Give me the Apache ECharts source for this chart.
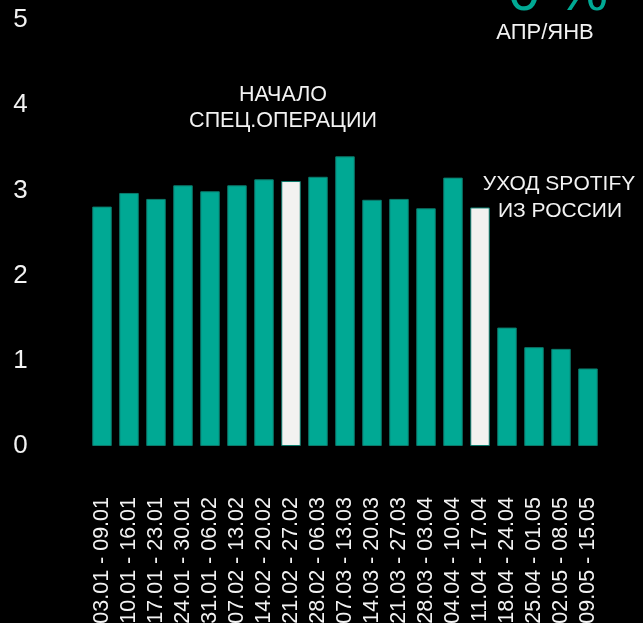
<!DOCTYPE html>
<html>
<head>
<meta charset="utf-8">
<script src="https://cdn.jsdelivr.net/npm/echarts@6/dist/echarts.min.js"></script>
<style>
html,body{margin:0;padding:0;background:#000;}
#c{width:643px;height:623px;}
</style>
</head>
<body>
<div id="c"></div>
<script>
var categories = ['03.01 - 09.01','10.01 - 16.01','17.01 - 23.01','24.01 - 30.01','31.01 - 06.02','07.02 - 13.02','14.02 - 20.02','21.02 - 27.02','28.02 - 06.03','07.03 - 13.03','14.03 - 20.03','21.03 - 27.03','28.03 - 03.04','04.04 - 10.04','11.04 - 17.04','18.04 - 24.04','25.04 - 01.05','02.05 - 08.05','09.05 - 15.05'];
var values = [2.81, 2.97, 2.90, 3.06, 2.99, 3.06, 3.13, 3.11, 3.16, 3.40, 2.89, 2.90, 2.79, 3.15, 2.80, 1.39, 1.16, 1.14, 0.91];
var highlighted = ['21.02 - 27.02', '11.04 - 17.04'];
var yTicks = [0, 1, 2, 3, 4, 5];

var FONT = '"Liberation Sans", Arial, sans-serif';
var chart = echarts.init(document.getElementById('c'), null, {renderer: 'canvas'});
chart.setOption({
  backgroundColor: '#000',
  animation: false,
  grid: {left: 88.5, right: 41.5, top: 20, bottom: 177, containLabel: false, outerBoundsMode: 'none'},
  xAxis: {
    type: 'category',
    data: categories,
    axisLine: {show: false},
    axisTick: {show: false},
    axisLabel: {rotate: 90, margin: 51, color: '#f2f2f2', fontSize: 21.5, fontFamily: FONT, interval: 0}
  },
  yAxis: {
    type: 'value',
    min: yTicks[0],
    max: yTicks[yTicks.length - 1],
    interval: 1,
    splitLine: {show: false},
    axisLine: {show: false},
    axisTick: {show: false},
    axisLabel: {color: '#f2f2f2', fontSize: 26, fontFamily: FONT, align: 'center', margin: 68}
  },
  series: [{
    type: 'bar',
    data: values,
    barWidth: 19.5,
    itemStyle: {
      color: function (p) { return highlighted.indexOf(categories[p.dataIndex]) >= 0 ? '#f2f2f0' : '#00a994'; },
      borderColor: '#0b7a6b',
      borderWidth: 1
    }
  }],
  graphic: [
    {type: 'text', x: 558, y: -6, style: {text: '0 %', fill: '#00a994', font: '58px ' + FONT, textAlign: 'center', textVerticalAlign: 'middle'}},
    {type: 'text', x: 545, y: 32.5, style: {text: 'АПР/ЯНВ', fill: '#f2f2f2', font: '22px ' + FONT, textAlign: 'center', textVerticalAlign: 'middle'}},
    {type: 'text', x: 283, y: 94.7, style: {text: 'НАЧАЛО', fill: '#f2f2f2', font: '21.5px ' + FONT, textAlign: 'center', textVerticalAlign: 'middle'}},
    {type: 'text', x: 283, y: 121.3, style: {text: 'СПЕЦ.ОПЕРАЦИИ', fill: '#f2f2f2', font: '21.5px ' + FONT, textAlign: 'center', textVerticalAlign: 'middle'}},
    {type: 'text', x: 559, y: 184.7, style: {text: 'УХОД SPOTIFY', fill: '#f2f2f2', font: '21px ' + FONT, textAlign: 'center', textVerticalAlign: 'middle'}},
    {type: 'text', x: 560, y: 211, style: {text: 'ИЗ РОССИИ', fill: '#f2f2f2', font: '21px ' + FONT, textAlign: 'center', textVerticalAlign: 'middle'}}
  ]
});
</script>
</body>
</html>
